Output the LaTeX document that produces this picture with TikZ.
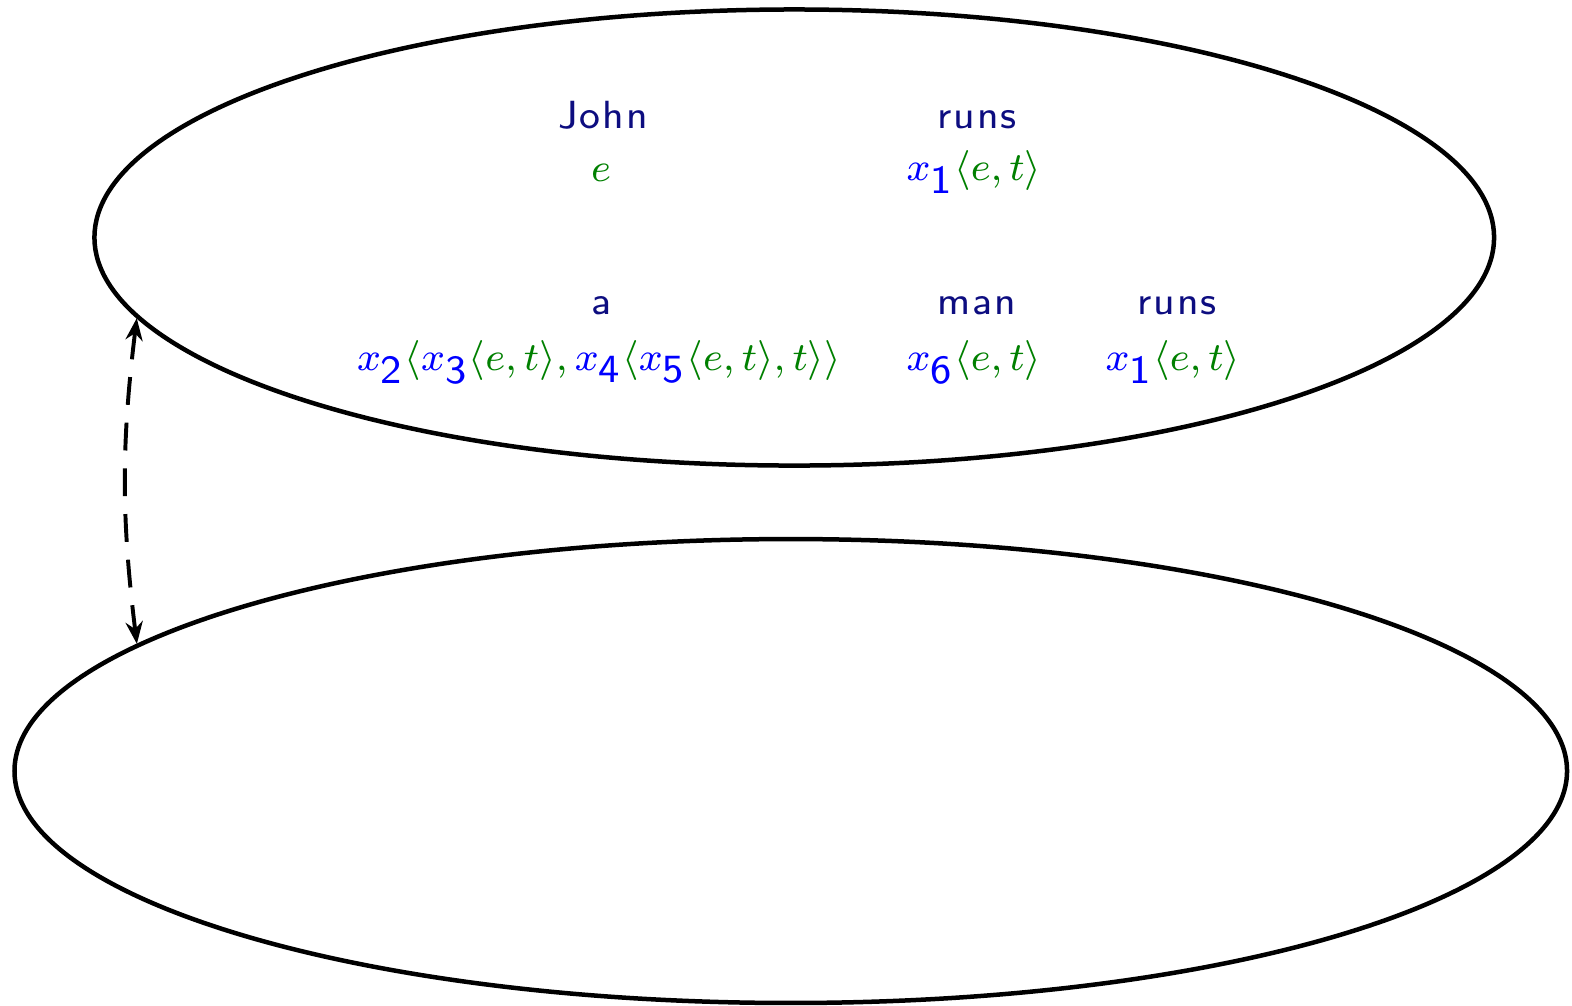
\documentclass[tikz,border=0pt]{standalone}
\usepackage{fontspec}
\usetikzlibrary{shapes.geometric,arrows.meta}
\newfontfamily\wordfont[LetterSpace=5]{lmsans8-regular.otf}
\newfontfamily\digitfont{lmsans8-regular.otf}
\definecolor{wordnavy}{rgb}{0.05,0.05,0.5}
\definecolor{tgreen}{rgb}{0,0.5,0}
\newcommand\vx[1]{\textcolor{blue}{x_{\mbox{\digitfont #1}}}}
\begin{document}
\begin{tikzpicture}[x=0.28pt,y=-0.28pt,
  ell/.style={draw, ellipse, line width=1.26pt, inner sep=0pt},
  word/.style={font=\wordfont\fontsize{8}{10}\selectfont, text=wordnavy, anchor=base, inner sep=0pt, scale=1.375},
  typ/.style={font=\fontsize{8}{10}\selectfont, text=tgreen, anchor=base, inner sep=0pt, scale=1.4},
  conn/.style={line width=1.1pt, dash pattern=on 7.8pt off 5pt,
    {Stealth[length=6.2pt,width=4.8pt,inset=2pt]}-{Stealth[length=6.2pt,width=4.8pt,inset=2pt]}}]
\useasboundingbox (0,0) rectangle (1572,1005);
\node[ell, minimum width=391.9pt, minimum height=127.7pt] (top) at (794.25,237.5) {};
\node[ell, minimum width=434.7pt, minimum height=129.9pt] (bot) at (790.75,771) {};
% first sentence
\node[word] (john) at (603,128) {John};
\node[typ] (johnt) at (601,181.5) {$e$};
\node[word] (runs1) at (977,128) {runs};
\node[typ] (runs1t) at (974,180) {$\vx1\langle e,t\rangle$};
% second sentence
\node[word] (a) at (602,314) {a};
\node[typ] (at) at (599,370) {$\vx2\langle\vx3\langle e,t\rangle,\vx4\langle\vx5\langle e,t\rangle,t\rangle\rangle$};
\node[word] (man) at (977,314) {man};
\node[typ] (mant) at (974,370) {$\vx6\langle e,t\rangle$};
\node[word] (runs2) at (1177,314) {runs};
\node[typ] (runs2t) at (1173,370) {$\vx1\langle e,t\rangle$};
% connector
\draw[conn] (top.187.54) to[bend right=7] (bot.169.7);
\end{tikzpicture}
\end{document}
